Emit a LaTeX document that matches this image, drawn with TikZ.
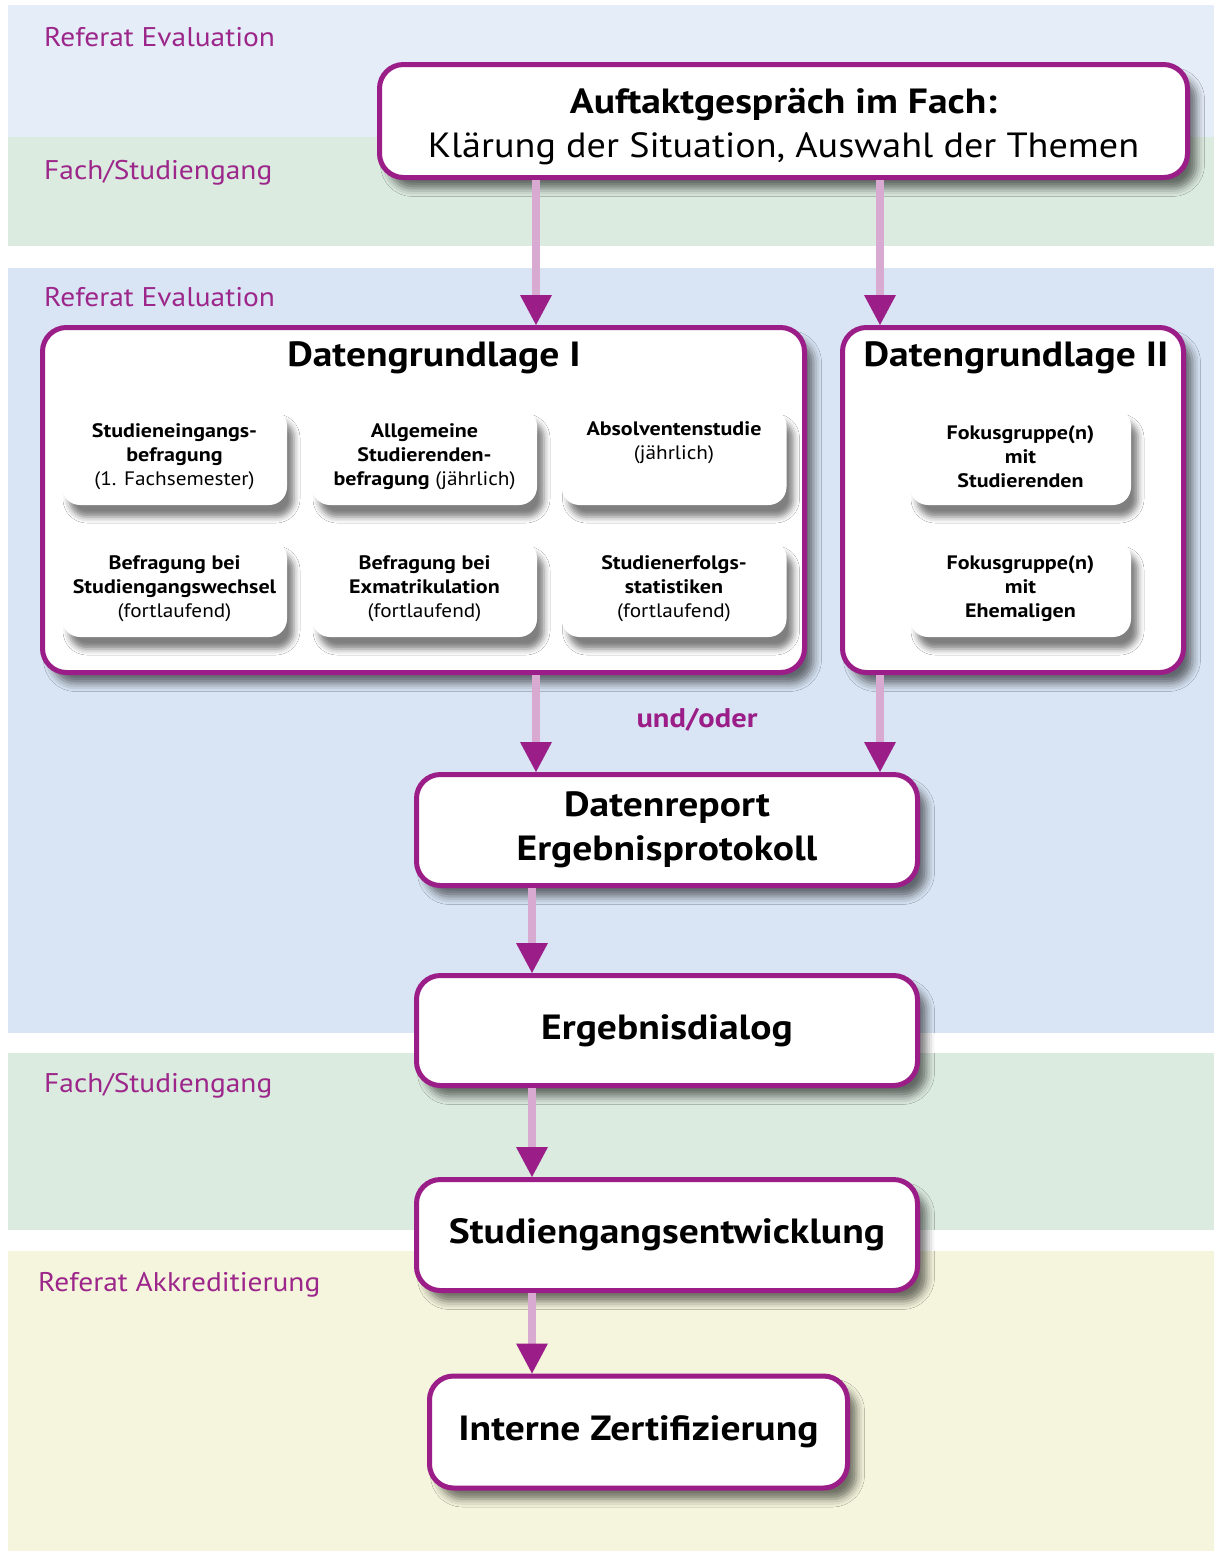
\documentclass[tikz,border=0pt]{standalone}
\usepackage{fontspec}
\setmainfont{PT Sans}[UprightFeatures={FakeStretch=1.09},BoldFeatures={FakeStretch=1.13}]
\usetikzlibrary{arrows.meta,shadows.blur}
\definecolor{pur}{RGB}{155,29,135}
\definecolor{lab}{RGB}{156,38,138}
\definecolor{shaft}{RGB}{216,170,210}
\definecolor{bandA}{RGB}{229,237,248}
\definecolor{bandB}{RGB}{220,235,224}
\definecolor{bandC}{RGB}{217,229,245}
\definecolor{bandD}{RGB}{245,245,221}
\begin{document}
\begin{tikzpicture}[x=1pt,y=-1pt,
  bigbox/.style={draw=pur, line width=5pt, fill=white, rounded corners=24pt, align=center,
    blur shadow={shadow xshift=9pt, shadow yshift=-11pt, shadow blur radius=8pt, shadow opacity=55},
    font=\fontsize{35}{44}\selectfont, inner sep=0pt},
  subbox/.style={fill=white, rounded corners=18pt, align=center, inner sep=0pt,
    minimum width=225pt, minimum height=97pt,
    blur shadow={shadow xshift=7pt, shadow yshift=-12pt, shadow blur radius=6pt, shadow opacity=50},
    font=\fontsize{19.5}{24}\selectfont},
  lbl/.style={text=lab, font=\fontsize{27}{30}\selectfont, anchor=base west, inner sep=0pt},
  ttl/.style={font=\fontsize{35}{40}\selectfont\bfseries, inner sep=0pt},
  arr/.style={draw=shaft, line width=8pt, -{Triangle[width=32pt,length=30pt,line width=0pt,color=pur]}}
]
\useasboundingbox (0,0) rectangle (1214,1551);
% bands
\fill[bandA] (8,5) rectangle (1214,137);
\fill[bandB] (8,137) rectangle (1214,246);
\fill[bandC] (8,268) rectangle (1214,1033);
\fill[bandB] (8,1053) rectangle (1214,1230);
\fill[bandD] (8,1251) rectangle (1214,1551);
% band labels
\node[lbl] (l1) at (44,46) {Referat Evaluation};
\node[lbl] (l2) at (44,179) {Fach/Studiengang};
\node[lbl] (l3) at (44,306) {Referat Evaluation};
\node[lbl] (l4) at (44,1092) {Fach/Studiengang};
\node[lbl] (l5) at (38,1291) {Referat Akkreditierung};
% main boxes
\node[bigbox, minimum width=808pt, minimum height=113pt] (auf) at (783.5,121)
  {\rule{0pt}{36pt}\textbf{Auftaktgespräch im Fach:}\\Klärung der Situation, Auswahl der Themen};
\node[bigbox, minimum width=762pt, minimum height=345pt] (dg1) at (423.5,500) {};
\node[ttl] (t1) at (434,358) {Datengrundlage I};
\node[bigbox, minimum width=341pt, minimum height=345pt] (dg2) at (1013,500) {};
\node[ttl] (t2) at (1016,358) {Datengrundlage II};
% sub boxes
\node[subbox] (s1) at (174.5,456.5) {\textbf{Studieneingangs-}\\\textbf{befragung}\\(1. Fachsemester)};
\node[subbox] (s2) at (424.5,456.5) {\textbf{Allgemeine}\\\textbf{Studierenden-}\\\textbf{befragung} (jährlich)};
\node[subbox] (s3) at (674,456.5) {\textbf{Absolventenstudie}\\(jährlich)\\\strut};
\node[subbox] (s4) at (174.5,588.5) {\textbf{Befragung bei}\\\textbf{Studiengangswechsel}\\(fortlaufend)};
\node[subbox] (s5) at (424.5,588.5) {\textbf{Befragung bei}\\\textbf{Exmatrikulation}\\(fortlaufend)};
\node[subbox] (s6) at (674,588.5) {\textbf{Studienerfolgs-}\\\textbf{statistiken}\\(fortlaufend)};
\node[subbox, minimum width=221pt] (f1) at (1020.5,456.5) {\textbf{Fokusgruppe(n)}\\\textbf{mit}\\\textbf{Studierenden}};
\node[subbox, minimum width=221pt] (f2) at (1020.5,588.5) {\textbf{Fokusgruppe(n)}\\\textbf{mit}\\\textbf{Ehemaligen}};
% lower chain
\node[bigbox, minimum width=501pt, minimum height=111pt] (rep) at (667,830)
  {\textbf{Datenreport}\\\textbf{Ergebnisprotokoll}};
\node[bigbox, minimum width=501pt, minimum height=110pt] (dia) at (667,1030.5) {\textbf{Ergebnisdialog}};
\node[bigbox, minimum width=501pt, minimum height=111pt] (stu) at (667,1235) {\textbf{Studiengangsentwicklung}};
\node[bigbox, minimum width=418pt, minimum height=112pt] (zer) at (638.5,1432) {\textbf{Interne Zertifizierung}};
\node[text=pur, font=\fontsize{27}{30}\selectfont\bfseries, inner sep=0pt] (uo) at (697,720) {und/oder};
% arrow columns
\coordinate (xa) at (536,0);
\coordinate (xb) at (880,0);
\coordinate (xc) at (532,0);
\draw[arr] (auf.south -| xa) -- (dg1.north -| xa);
\draw[arr] (auf.south -| xb) -- (dg2.north -| xb);
\draw[arr] (dg1.south -| xa) -- (rep.north -| xa);
\draw[arr] (dg2.south -| xb) -- (rep.north -| xb);
\draw[arr] (rep.south -| xc) -- (dia.north -| xc);
\draw[arr] (dia.south -| xc) -- (stu.north -| xc);
\draw[arr] (stu.south -| xc) -- (zer.north -| xc);
\end{tikzpicture}
\end{document}
